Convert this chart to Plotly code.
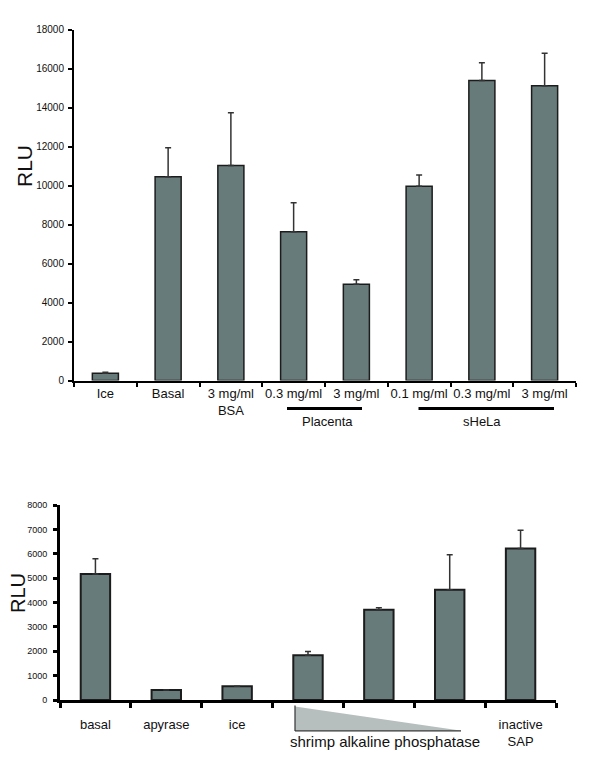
import plotly.graph_objects as go

# ---- Data ----
top_labels = ["Ice", "Basal", "3 mg/ml<br>BSA", "0.3 mg/ml", "3 mg/ml",
              "0.1 mg/ml", "0.3 mg/ml", "3 mg/ml"]
top_values = [370, 10450, 11030, 7630, 4930, 9960, 15390, 15120]
top_errors = [50, 1490, 2700, 1490, 240, 580, 900, 1660]
top_ticks = [0, 2000, 4000, 6000, 8000, 10000, 12000, 14000, 16000, 18000]

bot_labels = ["basal", "apyrase", "ice", "", "", "", "inactive<br>SAP"]
bot_values = [5170, 410, 565, 1840, 3700, 4520, 6220]
bot_errors = [620, 0, 0, 150, 80, 1440, 740]
bot_ticks = [0, 1000, 2000, 3000, 4000, 5000, 6000, 7000, 8000]

W, H = 600, 771
FONT = "Liberation Sans, Arial, Helvetica, sans-serif"
BAR = "#687b7b"
EDGE = "#1c1c1c"

top_keys = [f"t{i}" for i in range(len(top_labels))]
bot_keys = [f"b{i}" for i in range(len(bot_labels))]


def fx(px):
    return px / W


def fy(py):
    return 1 - py / H


fig = go.Figure()

fig.add_trace(go.Bar(
    x=top_keys, y=top_values, xaxis="x", yaxis="y",
    marker=dict(color=BAR, line=dict(color=EDGE, width=1.5)),
    error_y=dict(type="data", symmetric=False, array=top_errors,
                 arrayminus=[0] * len(top_errors),
                 color="#333333", thickness=1.5, width=3),
    showlegend=False,
))

fig.add_trace(go.Bar(
    x=bot_keys, y=bot_values, xaxis="x2", yaxis="y2",
    marker=dict(color=BAR, line=dict(color=EDGE, width=2)),
    error_y=dict(type="data", symmetric=False, array=bot_errors,
                 arrayminus=[0] * len(bot_errors),
                 color="#333333", thickness=1.5, width=3),
    showlegend=False,
))

fig.update_layout(
    width=W, height=H,
    margin=dict(l=0, r=0, t=0, b=0, autoexpand=False),
    paper_bgcolor="white", plot_bgcolor="white",
    bargap=0.585,
    font=dict(family=FONT, color="#111111"),
    xaxis=dict(
        domain=[fx(74), fx(576)], anchor="y",
        range=[-0.5, 7.5], type="category",
        tickvals=top_keys, ticktext=top_labels,
        showline=True, linecolor="#000", linewidth=2,
        ticks="outside", tickson="boundaries", ticklen=4, tickwidth=2,
        tickcolor="#000", showgrid=False, zeroline=False,
        tickfont=dict(size=13, family=FONT, color="#111"),
        tickangle=0, automargin=False,
    ),
    yaxis=dict(
        domain=[fy(380.5), fy(29.5)], anchor="x",
        range=[0, 18000], tickvals=top_ticks,
        ticktext=[str(t) for t in top_ticks],
        showline=True, linecolor="#000", linewidth=2,
        ticks="outside", ticklen=4, tickwidth=2, tickcolor="#000",
        showgrid=False, zeroline=False,
        tickfont=dict(size=10, family=FONT, color="#111"),
        ticklabelstandoff=2, automargin=False,
    ),
    xaxis2=dict(
        domain=[fx(60), fx(556)], anchor="y2",
        range=[-0.5, 6.5], type="category",
        tickvals=bot_keys, ticktext=bot_labels,
        showline=True, linecolor="#000", linewidth=3,
        ticks="outside", tickson="boundaries", ticklen=5, tickwidth=3,
        tickcolor="#000", showgrid=False, zeroline=False,
        tickfont=dict(size=13, family=FONT, color="#111"),
        tickangle=0, ticklabelstandoff=10, automargin=False,
    ),
    yaxis2=dict(
        domain=[fy(700), fy(505)], anchor="x2",
        range=[0, 8000], tickvals=bot_ticks,
        ticktext=[str(t) for t in bot_ticks],
        showline=True, linecolor="#000", linewidth=3,
        ticks="outside", ticklen=4, tickwidth=3, tickcolor="#000",
        showgrid=False, zeroline=False,
        tickfont=dict(size=9, family=FONT, color="#111"),
        ticklabelstandoff=4, automargin=False,
    ),
)

shapes = [
    # Placenta underline
    dict(type="line", xref="paper", yref="paper",
         x0=fx(287), x1=fx(362), y0=fy(408.5), y1=fy(408.5),
         line=dict(color="#000", width=3)),
    # sHeLa underline
    dict(type="line", xref="paper", yref="paper",
         x0=fx(418.5), x1=fx(554), y0=fy(408.5), y1=fy(408.5),
         line=dict(color="#000", width=3)),
    # SAP gradient triangle
    dict(type="path", xref="paper", yref="paper",
         path=f"M {fx(295)},{fy(706.5)} L {fx(295)},{fy(730.5)} L {fx(460)},{fy(730.5)} Z",
         fillcolor="#b6bebe", line=dict(width=0)),
    dict(type="line", xref="paper", yref="paper",
         x0=fx(295), x1=fx(295), y0=fy(705.5), y1=fy(731),
         line=dict(color="#333", width=1.2)),
    dict(type="line", xref="paper", yref="paper",
         x0=fx(295), x1=fx(461), y0=fy(730.8), y1=fy(730.8),
         line=dict(color="#333", width=1.2)),
]
fig.update_layout(shapes=shapes)

annotations = [
    dict(text="RLU", xref="paper", yref="paper", x=fx(24.5), y=fy(166.5),
         showarrow=False, textangle=-90, font=dict(size=21, family=FONT, color="#111"),
         xanchor="center", yanchor="middle"),
    dict(text="RLU", xref="paper", yref="paper", x=fx(18), y=fy(593),
         showarrow=False, textangle=-90, font=dict(size=20, family=FONT, color="#111"),
         xanchor="center", yanchor="middle"),
    dict(text="Placenta", xref="paper", yref="paper", x=fx(327.5), y=fy(421.5),
         showarrow=False, font=dict(size=13, family=FONT, color="#111"),
         xanchor="center", yanchor="middle"),
    dict(text="sHeLa", xref="paper", yref="paper", x=fx(482), y=fy(421.5),
         showarrow=False, font=dict(size=13, family=FONT, color="#111"),
         xanchor="center", yanchor="middle"),
    dict(text="shrimp alkaline phosphatase", xref="paper", yref="paper",
         x=fx(385), y=fy(741), showarrow=False,
         font=dict(size=15, family=FONT, color="#111"),
         xanchor="center", yanchor="middle"),
]
fig.update_layout(annotations=annotations)

fig.write_html(
    "out.html",
    config={"displayModeBar": False},
    post_script="document.body.style.margin='0';document.body.style.overflow='hidden';",
)
